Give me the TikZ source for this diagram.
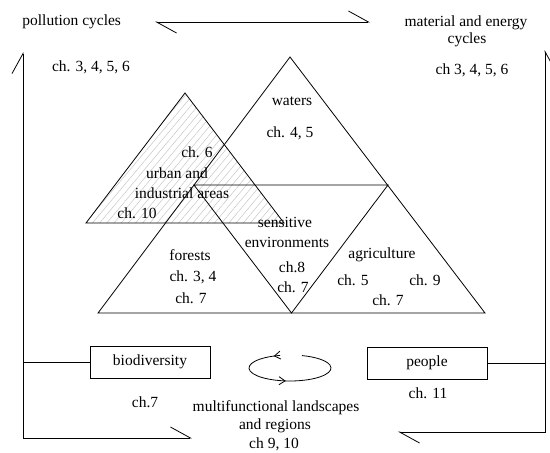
\documentclass[tikz,border=0pt]{standalone}
\usepackage{fontspec}
\setmainfont{Liberation Serif}
\usetikzlibrary{arrows.meta,patterns.meta,decorations.markings}

\begin{document}
\begin{tikzpicture}[x=1pt,y=-1pt,line width=0.8pt,
        lbl/.style={inner sep=0pt,font=\fontsize{15.5}{17}\selectfont},
        chbox/.style={draw,line width=0.8pt,minimum width=120pt,minimum height=32pt,font=\fontsize{15.5}{17}\selectfont},
        hbarb/.tip={Straight Barb[harpoon,length=20pt,width=22pt]},
        hbarbr/.tip={Straight Barb[harpoon,swap,length=20pt,width=22pt]}]
    \useasboundingbox (0,0) rectangle (550,453);

    % hatched urban triangle
    \coordinate (ua) at (185,93);
    \coordinate (ul) at (86,223);
    \coordinate (ur) at (284,223);
    \draw[pattern={Lines[angle=50,distance=5.5pt,line width=0.5pt]}, pattern color=gray!45] (ua) -- (ul) -- (ur) -- cycle;

    % big triangle split in four
    \coordinate (apex) at (290,57);
    \coordinate (bl) at (98,313);
    \coordinate (br) at (485,313);
    \coordinate (ml) at (194,185);
    \coordinate (mr) at (388,185);
    \coordinate (mb) at (291.5,313);
    \draw (apex) -- (bl) -- (br) -- cycle;
    \draw (ml) -- (mr) -- (mb) -- cycle;

    % labels
    \node[lbl, anchor=west] (poll) at (22,22) {pollution cycles};
    \node[lbl] (pollch) at (91,67) {ch. 3, 4, 5, 6};
    \node[lbl] (mat) at (466,23) {material and energy};
    \node[lbl] (matb) at (467,40) {cycles};
    \node[lbl] (match) at (472,70) {ch 3, 4, 5, 6};

    \node[lbl] (wat) at (292,101) {waters};
    \node[lbl] (watch) at (290,133) {ch. 4, 5};

    \node[lbl] (urbch) at (197,152) {ch. 6};
    \node[lbl] (urb) at (177,173) {urban and};
    \node[lbl] (urbb) at (182,193) {industrial areas};
    \node[lbl] (urbch2) at (137,213) {ch. 10};

    \node[lbl] (sens) at (285,222) {sensitive};
    \node[lbl] (sensb) at (287,242) {environments};
    \node[lbl] (sensch) at (292,267) {ch.8};
    \node[lbl] (sensch2) at (293,287) {ch. 7};

    \node[lbl] (for) at (190,255) {forests};
    \node[lbl] (forch) at (193,277) {ch. 3, 4};
    \node[lbl] (forch2) at (191,298) {ch. 7};

    \node[lbl] (agr) at (382,255) {agriculture};
    \node[lbl] (agrch) at (353,280) {ch. 5};
    \node[lbl] (agrch2) at (425,280) {ch. 9};
    \node[lbl] (agrch3) at (388,300) {ch. 7};

    % boxes
    \node[chbox] (bio) at (150,362) {biodiversity};
    \node[lbl] (bioch) at (145,402) {ch.7};
    \node[chbox] (ppl) at (427,363) {people};
    \node[lbl] (pplch) at (428,393) {ch. 11};

    \node[lbl] (multi) at (276,408) {multifunctional landscapes};
    \node[lbl] (multib) at (275,426) {and regions};
    \node[lbl] (multich) at (274,444) {ch 9, 10};

    % the big cycle
    \coordinate (lt) at (23,52);
    \coordinate (lb) at (23,438);
    \coordinate (le) at (192,438);
    \coordinate (rt) at (545,50);
    \coordinate (rb) at (545,432);
    \coordinate (re) at (398,432);
    \coordinate (tl) at (155,22);
    \coordinate (tr) at (370,22);
    \draw[hbarb-hbarb] (tl) -- (tr);
    \draw[hbarb-hbarb] (lt) -- (lb) -- (le);
    \draw[hbarbr-hbarb] (rt) -- (rb) -- (re);
    \draw (bio.west) -- (bio.west -| lb);
    \draw (ppl.east) -- (ppl.east -| rb);

    % small circular arrow
    \draw[postaction={decorate},decoration={markings,
        mark=at position 0.04 with {\arrow{Straight Barb[length=6pt,width=8pt]}},
        mark=at position 0.48 with {\arrow{Straight Barb[length=6pt,width=8pt]}}}]
        (290,368) ++(256:41 and 13) arc (256:-73:41 and 13);
\end{tikzpicture}
\end{document}
